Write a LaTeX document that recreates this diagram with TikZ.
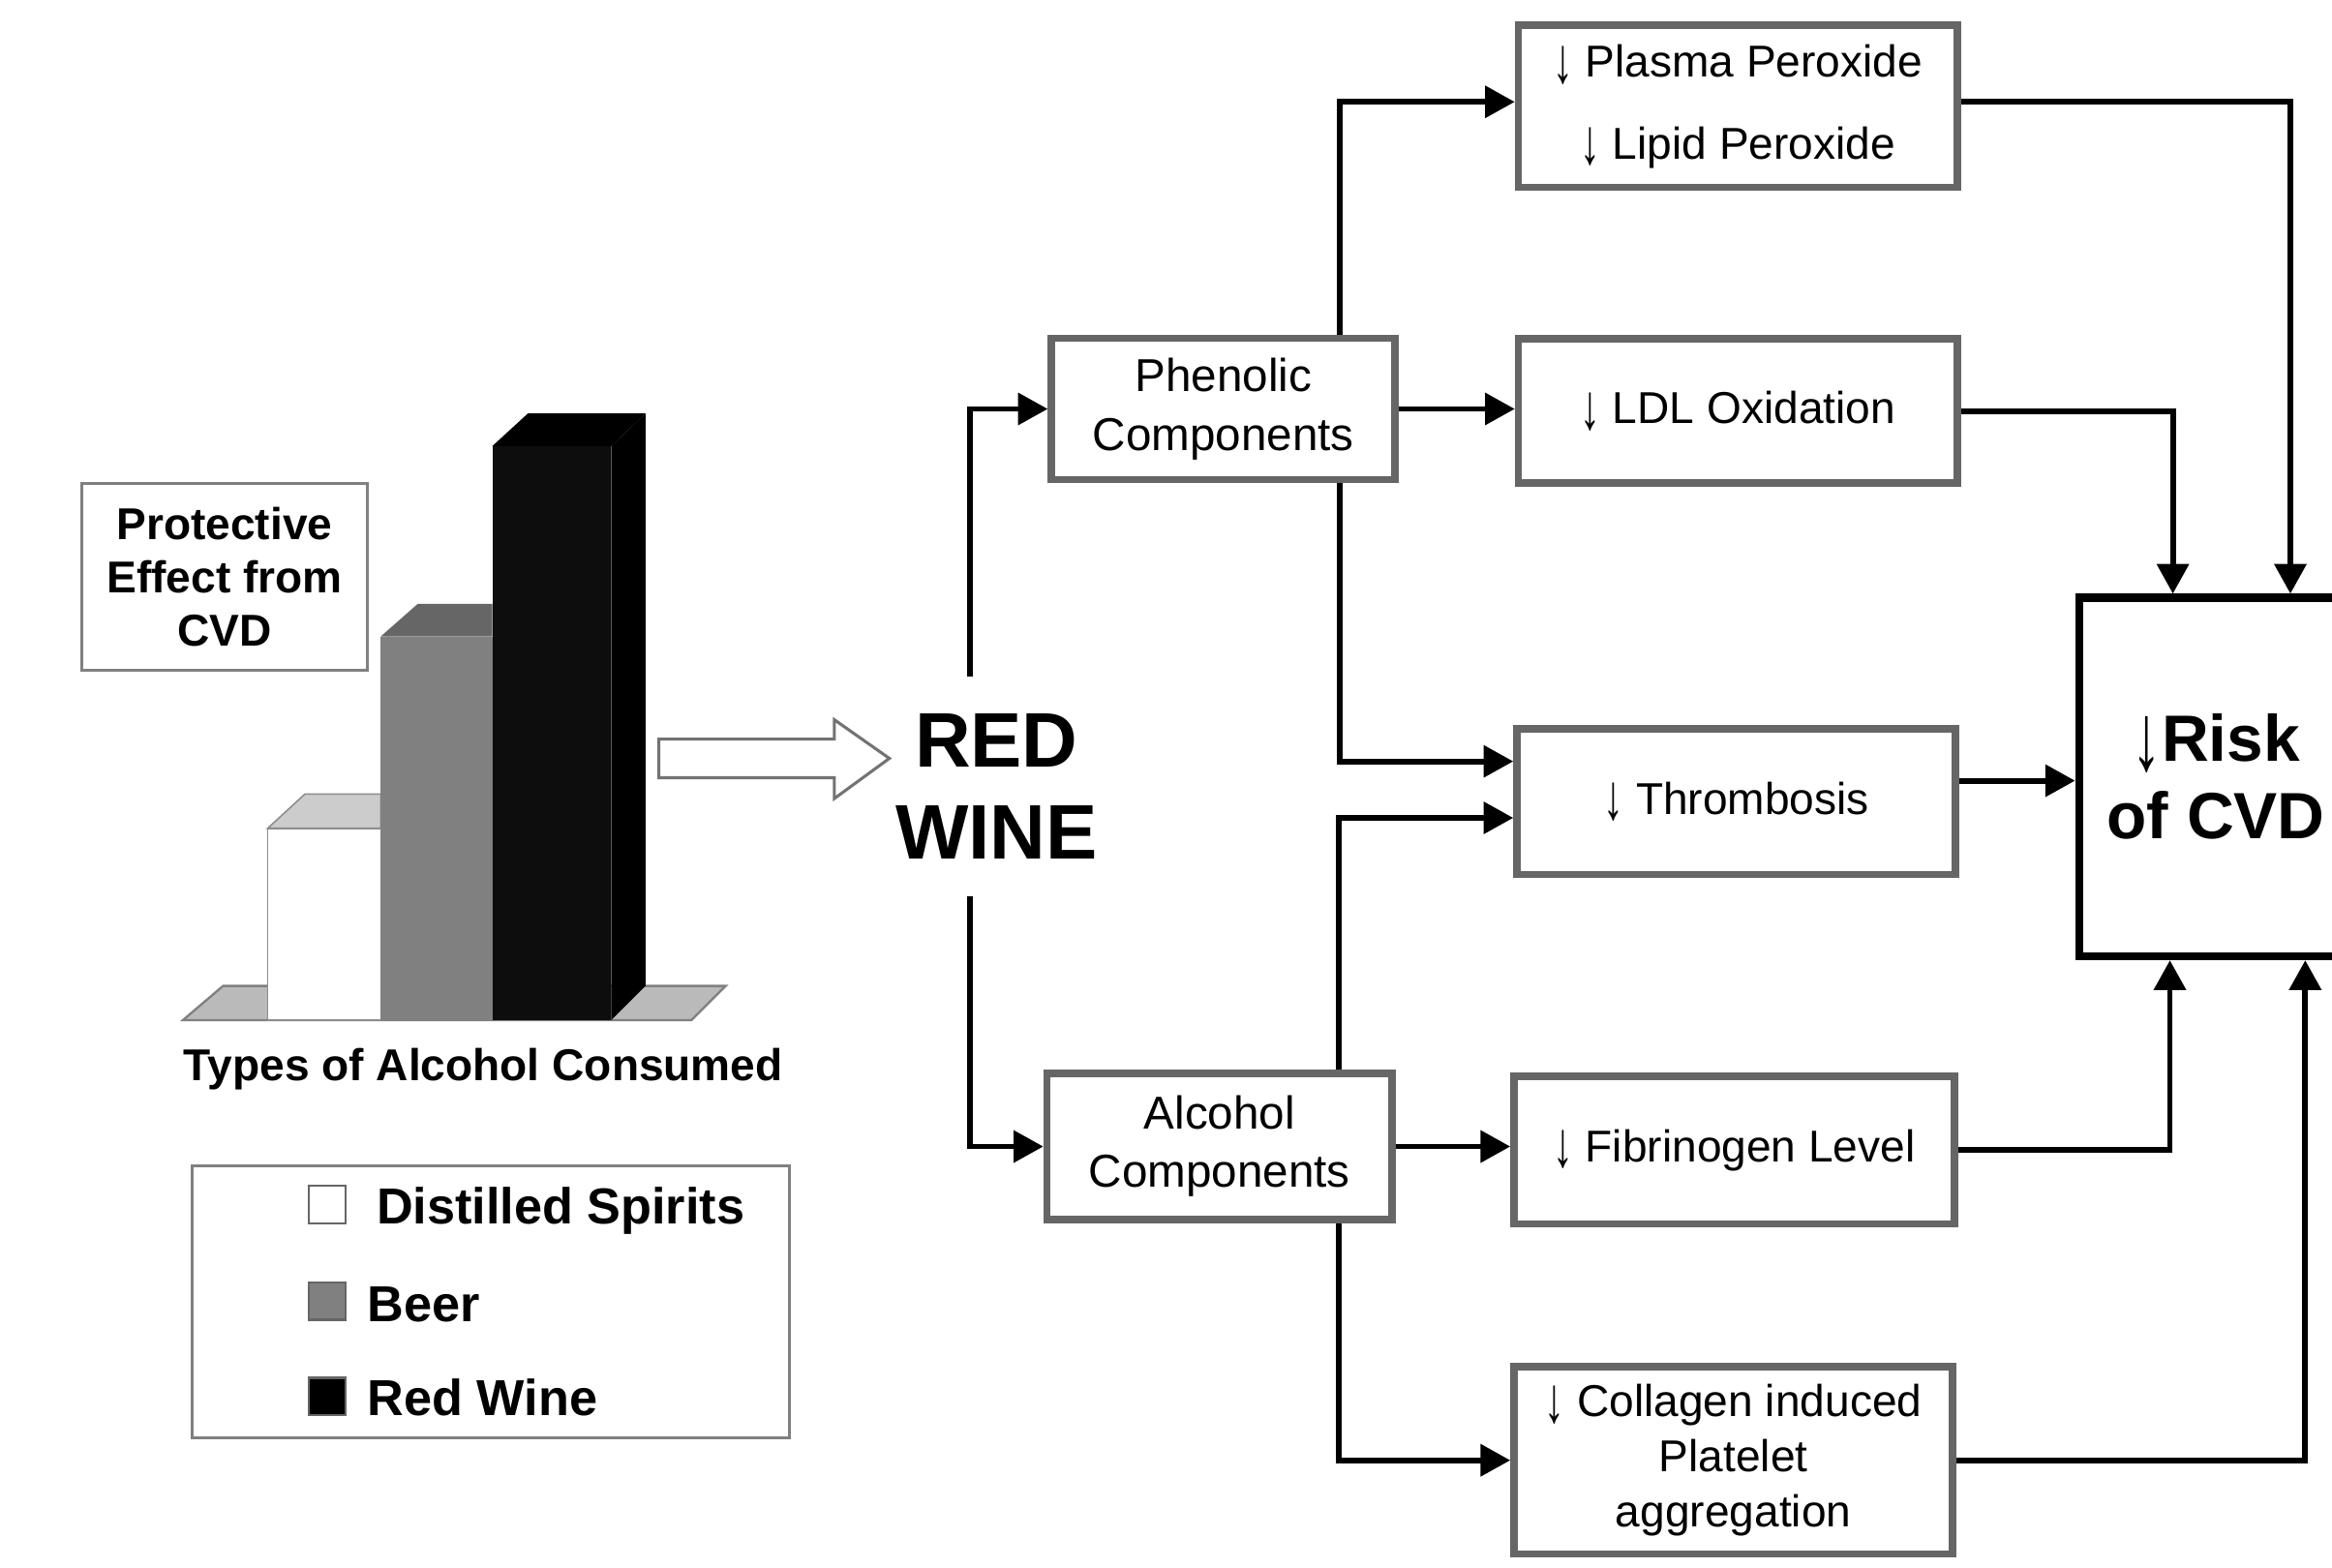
\documentclass[tikz,border=0pt]{standalone}
\usepackage{fontspec}
\usepackage{graphicx}
\setmainfont{Liberation Sans}
\usetikzlibrary{arrows.meta}
\newcommand{\dn}{\raisebox{-0.12em}{\scalebox{0.9}[1.45]{↓}}}
\begin{document}
\begin{tikzpicture}[x=1pt,y=-1pt,
  box/.style={draw=black!60, line width=5pt, fill=white, align=center, inner sep=0pt, font=\fontsize{30}{37}\selectfont},
  arr/.style={line width=3.8pt, -{Triangle[length=20pt,width=21pt]}},
  thinbox/.style={draw=black!50, line width=2pt, fill=white, inner sep=0pt},
  sq/.style={draw=black!60, line width=1.5pt, minimum size=25pt, inner sep=0pt},
  legtext/.style={anchor=west, inner sep=0pt, font=\bfseries\fontsize{34}{40}\selectfont}]
\useasboundingbox (0,0) rectangle (1568,1054);
\fill[white] (0,0) rectangle (1568,1054);

% ---- bar chart ----
\draw[fill=black!27, draw=black!50, line width=1.5pt] (123,686) -- (150,663) -- (488,663) -- (465,686) -- cycle;
% white bar
\draw[fill=black!20, draw=black!45, line width=1pt] (180,557) -- (205,534) -- (256,534) -- (256,557) -- cycle;
\draw[fill=white, draw=black!45, line width=1pt] (180,557) rectangle (256,686);
% beer bar
\fill[black!60] (256,428) -- (281,406) -- (331,406) -- (331,428) -- cycle;
\fill[black!50] (256,428) rectangle (331,686);
% red wine bar
\fill[black] (331,300) -- (355,278) -- (434,278) -- (411,300) -- cycle;
\fill[black] (411,300) -- (434,278) -- (434,663) -- (411,686) -- cycle;
\fill[black!95] (331,300) rectangle (411,686);

\node[thinbox, minimum width=192pt, minimum height=126pt, align=center, font=\bfseries\fontsize{30}{36}\selectfont] (prot) at (151,388) {Protective\\Effect from\\CVD};
\node[inner sep=0pt, font=\bfseries\fontsize{30}{36}\selectfont] (types) at (325,719) {Types of Alcohol Consumed};

% hollow arrow
\draw[fill=white, draw=black!55, line width=2pt] (443,497) -- (561,497) -- (561,484) -- (598,510) -- (561,537) -- (561,523) -- (443,523) -- cycle;

% legend
\node[thinbox, minimum width=402pt, minimum height=183pt] (legend) at (330,875.5) {};
\node[sq, fill=white] (s1) at (220,810) {};
\node[sq, fill=black!50] (s2) at (220,875) {};
\node[sq, fill=black] (s3) at (220,939) {};
\node[legtext] (l1) at (253,814) {Distilled Spirits};
\node[legtext] (l2) at (247,877) {Beer};
\node[legtext] (l3) at (247,940) {Red Wine};

% ---- flow chart ----
\node[align=center, inner sep=0pt, font=\bfseries\fontsize{52}{62}\selectfont] (rw) at (670,529) {RED\\WINE};
\coordinate (rwtop) at (652,455);
\coordinate (rwbot) at (652,603);

\node[box, minimum width=231pt, minimum height=95pt, font=\fontsize{31}{40}\selectfont] (phen) at (822.5,275) {Phenolic\\Components};
\node[box, minimum width=232pt, minimum height=98pt, font=\fontsize{31}{39}\selectfont] (alc) at (820,771) {Alcohol\\Components};

\node[box, minimum width=295pt, minimum height=109pt, font=\fontsize{30}{55}\selectfont] (plasma) at (1168.5,71.5) {\dn\ Plasma Peroxide\\\dn\ Lipid Peroxide};
\node[box, minimum width=295pt, minimum height=97pt] (ldl) at (1168.5,276.5) {\dn\ LDL Oxidation};
\node[box, minimum width=295pt, minimum height=98pt] (thromb) at (1167.5,539) {\dn\ Thrombosis};
\node[box, minimum width=296pt, minimum height=99pt] (fib) at (1166,773.5) {\dn\ Fibrinogen Level};
\node[box, minimum width=295pt, minimum height=126pt] (coll) at (1165.5,982) {\dn\ Collagen induced\\Platelet\\aggregation};

\node[draw=black, line width=5.5pt, fill=white, minimum width=184pt, minimum height=241pt, align=center, inner sep=0pt, font=\bfseries\fontsize{44}{52}\selectfont] (risk) at (1490,522.5) {\dn Risk\\of CVD};

\draw[arr] (rwtop) |- (phen.west);
\draw[arr] (rwbot) |- (alc.west);

\draw[arr] ([xshift=78.5pt]phen.north) |- ([yshift=3pt]plasma.west);
\draw[arr] (phen.east) -- (phen.east -| ldl.west);
\draw[arr] ([xshift=78.5pt]phen.south) |- ([yshift=27pt]thromb.west);
\draw[arr] ([xshift=80pt]alc.north) |- ([yshift=-11pt]thromb.west);
\draw[arr] (alc.east) -- (alc.east -| fib.west);
\draw[arr] ([xshift=80pt]alc.south) |- (coll.west);

\coordinate (pe) at ([yshift=3pt]plasma.east);
\draw[arr] (pe) -| ([xshift=50pt]risk.north);
\draw[arr] (ldl.east) -| ([xshift=-29pt]risk.north);
\coordinate (te) at ([yshift=14pt]thromb.east);
\draw[arr] (te) -- (te -| risk.west);
\draw[arr] (fib.east) -| ([xshift=-31pt]risk.south);
\draw[arr] (coll.east) -| ([xshift=60pt]risk.south);
\end{tikzpicture}
\end{document}
